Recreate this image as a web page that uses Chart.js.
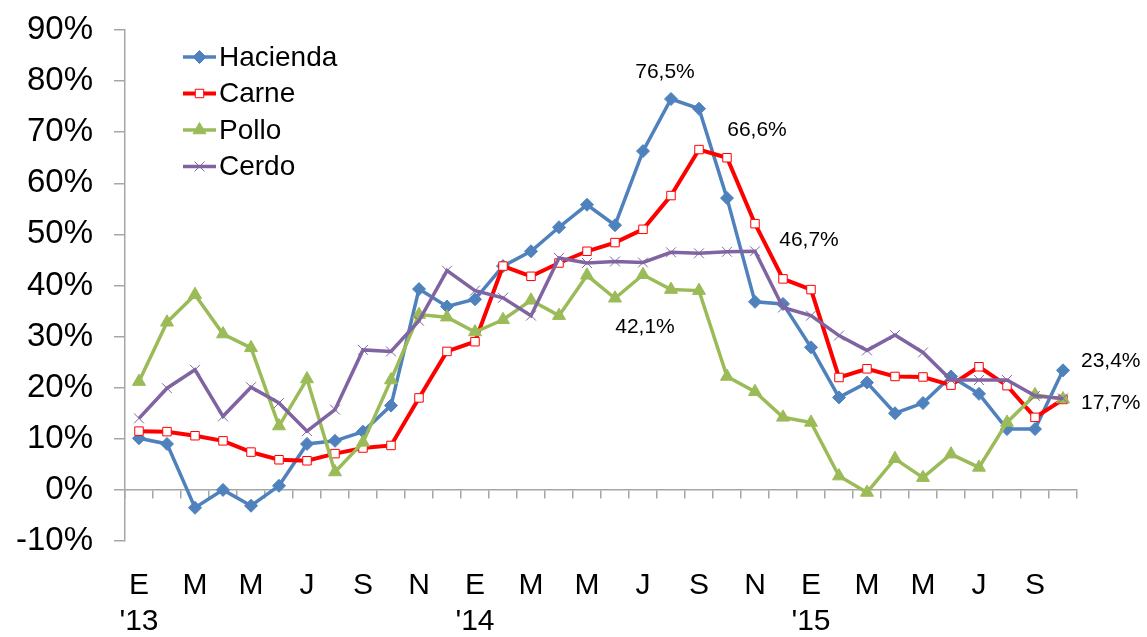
<!DOCTYPE html>
<html>
<head>
<meta charset="utf-8">
<title>Hacienda, carne, pollo y cerdo</title>
<script src="https://cdn.jsdelivr.net/npm/chart.js"></script>
<style>
html,body{margin:0;padding:0;background:#fff}
</style>
</head>
<body>
<canvas id="chart" width="1147" height="637"></canvas>
<script>
// meses ene-2013 .. oct-2015
const months=['E','F','M','A','M','J','J','A','S','O','N','D',
              'E','F','M','A','M','J','J','A','S','O','N','D',
              'E','F','M','A','M','J','J','A','S','O'];
const years=["'13","'14","'15"];

const hacienda=[10.1,9.0,-3.5,0.0,-3.1,0.8,9.0,9.6,11.4,16.5,39.3,35.9,37.3,43.8,46.7,51.4,55.8,51.8,66.3,76.5,74.6,57.1,36.8,36.4,27.9,18.1,21.0,15.0,17.0,22.2,18.8,11.9,11.9,23.4];
const carne=[11.5,11.4,10.6,9.6,7.4,5.9,5.7,7.1,8.2,8.7,18.0,27.1,29.0,43.8,41.8,44.4,46.7,48.4,51.0,57.6,66.6,65.0,52.1,41.3,39.2,22.0,23.7,22.2,22.1,20.5,24.1,20.4,14.2,17.7];
const pollo=[21.2,32.8,38.2,30.5,27.8,12.5,21.7,3.5,9.3,21.5,34.3,33.8,30.9,33.3,37.1,34.1,42.0,37.5,42.1,39.2,39.0,22.2,19.2,14.2,13.2,2.7,-0.5,6.1,2.4,7.0,4.4,13.2,18.6,17.8];
const cerdo=[14.0,19.9,23.5,14.4,20.1,17.0,11.5,15.7,27.4,27.1,33.1,42.9,39.0,37.6,34.1,45.4,44.4,44.7,44.5,46.5,46.3,46.6,46.7,35.7,34.1,30.2,27.3,30.3,26.9,21.5,21.5,21.5,18.4,17.9];

const FONT='"Liberation Sans", Arial, sans-serif';
const axisGrey='#A6A6A6';

// etiquetas de valor: serie, punto, desplazamiento del texto
const callouts=[
    {ds:0,i:19,dx:-6,dy:-27,align:'center'},
    {ds:1,i:20,dx:58,dy:-19,align:'center'},
    {ds:3,i:22,dx:54,dy:-11,align:'center'},
    {ds:2,i:18,dx:2,dy:52,align:'center'},
    {ds:0,i:33,dx:18,dy:-9,align:'left'},
    {ds:1,i:33,dx:18,dy:4,align:'left'}
];

const calloutPlugin={
    id:'callouts',
    afterDatasetsDraw(chart){
        const ctx=chart.ctx;
        ctx.save();
        ctx.font='21px '+FONT;
        ctx.fillStyle='#000';
        ctx.textBaseline='middle';
        callouts.forEach(c=>{
            const pt=chart.getDatasetMeta(c.ds).data[c.i];
            const v=chart.data.datasets[c.ds].data[c.i];
            ctx.textAlign=c.align;
            ctx.fillText(v.toFixed(1).replace('.',',')+'%',pt.x+c.dx,pt.y+c.dy);
        });
        ctx.restore();
    }
};

const legendPlugin={
    id:'sideLegend',
    afterDraw(chart){
        const ctx=chart.ctx;
        ctx.save();
        chart.data.datasets.forEach((ds,k)=>{
            const y=57+36.5*k;
            ctx.strokeStyle=ds.borderColor;
            ctx.lineWidth=ds.borderWidth;
            ctx.beginPath();ctx.moveTo(183,y);ctx.lineTo(216,y);ctx.stroke();
            ctx.fillStyle=ds.pointBackgroundColor;
            ctx.strokeStyle=ds.pointBorderColor;
            ctx.lineWidth=ds.pointBorderWidth;
            Chart.helpers.drawPoint(ctx,{pointStyle:ds.pointStyle,radius:ds.pointRadius,rotation:0,borderWidth:ds.pointBorderWidth},199.5,y);
            ctx.fillStyle='#000';
            ctx.font='28px '+FONT;
            ctx.textAlign='left';
            ctx.textBaseline='middle';
            ctx.fillText(ds.label,219,y+1);
        });
        ctx.restore();
    }
};

function series(label,data,color,style,radius,fill,bw,order){
    return {label,data,borderColor:color,borderWidth:3.5,tension:0,
        pointStyle:style,pointRadius:radius,pointHoverRadius:radius,
        pointBackgroundColor:fill,pointBorderColor:color,pointBorderWidth:bw,order};
}

new Chart(document.getElementById('chart'),{
    type:'line',
    data:{
        labels:months,
        datasets:[
            series('Hacienda',hacienda,'#4F81BD','rectRot',6.5,'#4F81BD',1,3),
            Object.assign(series('Carne',carne,'#FF0000','rect',6,'#FFFFFF',1,2),{borderWidth:4}),
            series('Pollo',pollo,'#9BBB59','triangle',7.5,'#9BBB59',1,1),
            series('Cerdo',cerdo,'#8064A2','crossRot',7,'#8064A2',1,0)
        ]
    },
    options:{
        responsive:false,
        animation:false,
        layout:{padding:{top:30,right:70,left:0,bottom:0}},
        plugins:{legend:{display:false},tooltip:{enabled:false}},
        scales:{
            x:{
                type:'category',position:'bottom',offset:true,
                grid:{display:false},border:{display:false},
                ticks:{autoSkip:false,maxRotation:0,minRotation:0,padding:19,color:'#000',
                    font:{family:FONT,size:30,lineHeight:1.2},
                    callback:(v,i)=>{
                        if(i%2) return '';
                        return i%12===0?[months[i],years[i/12]]:months[i];
                    }},
                afterFit:s=>{s.height=96;}
            },
            x0:{
                type:'category',position:{y:0},offset:true,
                grid:{offset:true,drawOnChartArea:false,tickLength:8,color:axisGrey,lineWidth:1.5},
                border:{color:axisGrey,width:1.5},
                ticks:{display:false}
            },
            y:{
                min:-10,max:90,
                grid:{drawOnChartArea:false,tickLength:11,color:axisGrey,lineWidth:1.5},
                border:{color:axisGrey,width:1.5},
                ticks:{stepSize:10,padding:21,color:'#000',font:{family:FONT,size:33},callback:v=>v+'%'},
                afterFit:s=>{s.width=125;s.paddingTop=0;s.paddingBottom=0;}
            }
        }
    },
    plugins:[calloutPlugin,legendPlugin]
});
</script>
</body>
</html>
